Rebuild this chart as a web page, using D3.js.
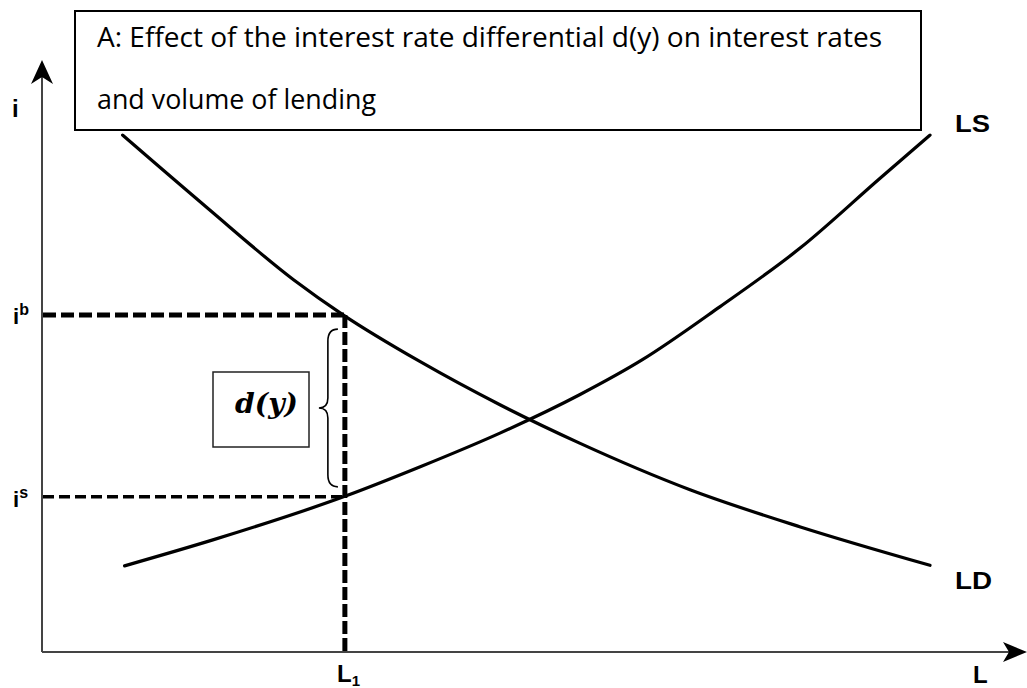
<!DOCTYPE html>
<html><head><meta charset="utf-8">
<script src="https://cdn.jsdelivr.net/npm/d3@7"></script>
<style>html,body{margin:0;padding:0;background:#fff;}</style>
</head><body>
<svg id="c" width="1027" height="688"></svg>
<script>
// Data (model units: L on x, i on y)
const ldL = [0.84, 1.72, 2.62, 3.14, 3.94, 4.77, 5.60, 6.75, 7.90, 9.25];
const ldI = [8.76, 7.53, 6.31, 5.71, 4.92, 4.19, 3.54, 2.75, 2.12, 1.47];
const lsL = [0.86, 1.78, 3.14, 3.94, 4.77, 5.60, 6.25, 7.06, 7.90, 8.73, 9.25];
const lsI = [1.46, 1.90, 2.63, 3.14, 3.71, 4.36, 4.95, 5.85, 6.85, 8.03, 8.76];
const L1 = 3.155, iB = 5.71, iS = 2.63;
const titleLines = ["A: Effect of the interest rate differential d(y) on interest rates", "and volume of lending"];

const svg = d3.select("#c");
const x = d3.scaleLinear().domain([0, 10]).range([42, 1002]);
const y = d3.scaleLinear().domain([0, 10]).range([652, 62]);

// axes
svg.append("line").attr("x1", x(0)).attr("x2", 1012).attr("y1", y(0)).attr("y2", y(0))
  .attr("stroke", "#444").attr("stroke-width", 2);
svg.append("line").attr("x1", x(0)).attr("x2", x(0)).attr("y1", y(0)).attr("y2", 70)
  .attr("stroke", "#444").attr("stroke-width", 2);
svg.append("path").attr("d", `M1027,${y(0)} L1003,${y(0)-10} L1009,${y(0)} L1003,${y(0)+10} Z`).attr("fill", "#000");
svg.append("path").attr("d", `M${x(0)},60 L${x(0)-11},84 L${x(0)},77 L${x(0)+11},84 Z`).attr("fill", "#000");

// dashed guides
svg.append("line").attr("x1", x(0) + 1).attr("x2", x(L1)).attr("y1", y(iB)).attr("y2", y(iB))
  .attr("stroke", "#000").attr("stroke-width", 5).attr("stroke-dasharray", "13,5");
svg.append("line").attr("x1", x(0) + 1).attr("x2", x(L1)).attr("y1", y(iS)).attr("y2", y(iS))
  .attr("stroke", "#000").attr("stroke-width", 3.5).attr("stroke-dasharray", "11,5");
svg.append("line").attr("x1", x(L1)).attr("x2", x(L1)).attr("y1", y(iB)).attr("y2", y(0))
  .attr("stroke", "#000").attr("stroke-width", 5).attr("stroke-dasharray", "13,4");

// curves
const line = d3.line().x(d => x(d[0])).y(d => y(d[1])).curve(d3.curveMonotoneX);
svg.append("path").datum(d3.zip(ldL, ldI)).attr("d", line).attr("fill", "none")
  .attr("stroke", "#000").attr("stroke-width", 3.2).attr("stroke-linecap", "round");
svg.append("path").datum(d3.zip(lsL, lsI)).attr("d", line).attr("fill", "none")
  .attr("stroke", "#000").attr("stroke-width", 3.2).attr("stroke-linecap", "round");

// brace
const bx = x(L1) - 17, bt = y(iB) + 14, bb = y(iS) - 10, bm = (bt + bb) / 2;
svg.append("path").attr("d",
  `M${bx+10},${bt} Q${bx},${bt} ${bx},${bt+12} L${bx},${bm-10} Q${bx},${bm} ${bx-9},${bm} Q${bx},${bm} ${bx},${bm+10} L${bx},${bb-12} Q${bx},${bb} ${bx+10},${bb}`)
  .attr("fill", "none").attr("stroke", "#000").attr("stroke-width", 1.6);

// d(y) box
svg.append("rect").attr("x", 213).attr("y", 372).attr("width", 96).attr("height", 75)
  .attr("fill", "#fff").attr("stroke", "#222").attr("stroke-width", 1.5);
svg.append("text").attr("x", 235).attr("y", 413)
  .attr("font-family", "DejaVu Serif").attr("font-style", "italic").attr("font-weight", "bold")
  .attr("font-size", 27).attr("textLength", 63).attr("lengthAdjust", "spacingAndGlyphs").text("d(y)");

// labels
const lab = (tx, ty, t, fs) => svg.append("text").attr("x", tx).attr("y", ty)
  .attr("font-family", "Liberation Sans, Arial").attr("font-weight", "bold").attr("font-size", fs || 24).text(t);
lab(12, 117, "i");
const tb = lab(13, 324, "i", 22); tb.append("tspan").attr("dy", -9).attr("font-size", 16).text("b");
const ts = lab(13, 507, "i", 22); ts.append("tspan").attr("dy", -9).attr("font-size", 16).text("s");
lab(955, 132, "LS").attr("textLength", 35).attr("lengthAdjust", "spacingAndGlyphs");
lab(955, 589, "LD").attr("textLength", 37).attr("lengthAdjust", "spacingAndGlyphs");
lab(973, 683, "L");
const tl = lab(337, 682, "L"); tl.append("tspan").attr("dy", 4).attr("font-size", 15).text("1");

// title box
svg.append("rect").attr("x", 75).attr("y", 11).attr("width", 846).attr("height", 119)
  .attr("fill", "#fff").attr("stroke", "#000").attr("stroke-width", 2);
const tlens = [785, 279];
titleLines.forEach((t, k) => {
  svg.append("text").attr("x", 97).attr("y", 47 + k * 62)
    .attr("font-family", "Open Sans, sans-serif").attr("font-size", 28)
    .attr("textLength", tlens[k]).attr("lengthAdjust", "spacingAndGlyphs").text(t);
});
</script>
</body></html>
